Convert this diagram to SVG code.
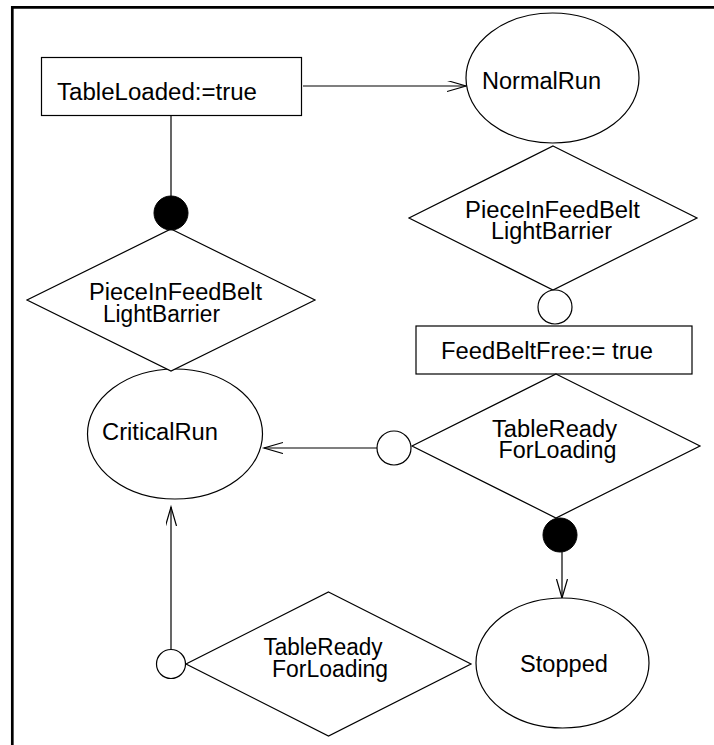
<svg xmlns="http://www.w3.org/2000/svg" width="714" height="745" viewBox="0 0 714 745">
  <style>
    .shape { fill: #fff; stroke: #000; stroke-width: 1.2; }
    .dot { fill: #000; stroke: #000; stroke-width: 1; }
    .ring { fill: #fff; stroke: #000; stroke-width: 1.2; }
    .edge { fill: none; stroke: #000; stroke-width: 1.2; }
    .frame { fill: none; stroke: #000; stroke-width: 2.7; }
    text { font-family: "Liberation Sans", Arial, Helvetica, sans-serif; font-size: 23px; fill: #000; }
  </style>
  <defs>
    <marker id="open-arrow" markerUnits="userSpaceOnUse" markerWidth="22" markerHeight="14" refX="19" refY="5.5" orient="auto">
      <path d="M0,0 L19,5.5 L0,11" fill="none" stroke="#000" stroke-width="1.2"/>
    </marker>
  </defs>

  <rect width="714" height="745" fill="#fff"/>

  <!-- page frame: top and left rules -->
  <g id="frame">
    <line class="frame" x1="11" y1="7.4" x2="714" y2="7.4"/>
    <line class="frame" x1="12.3" y1="6" x2="12.3" y2="745"/>
  </g>

  <!-- connectors -->
  <g id="connectors">
    <line class="edge" x1="303" y1="86" x2="466" y2="86" marker-end="url(#open-arrow)"/>
    <line class="edge" x1="171" y1="115.5" x2="171" y2="196"/>
    <line class="edge" x1="377" y1="448" x2="264" y2="448" marker-end="url(#open-arrow)"/>
    <line class="edge" x1="562" y1="552" x2="562" y2="598" marker-end="url(#open-arrow)"/>
    <line class="edge" x1="171" y1="649.5" x2="171" y2="507" marker-end="url(#open-arrow)"/>
  </g>

  <g id="table-loaded">
    <rect class="shape" x="41.5" y="57.5" width="260" height="58"/>
    <text x="57" y="100" textLength="200" lengthAdjust="spacingAndGlyphs">TableLoaded:=true</text>
  </g>

  <g id="normal-run">
    <ellipse class="shape" cx="552.5" cy="78" rx="86.5" ry="65"/>
    <text x="482" y="89" textLength="119" lengthAdjust="spacingAndGlyphs">NormalRun</text>
  </g>

  <g id="piece-sensor-normal">
    <polygon class="shape" points="553,146 697,218 553,290 409,218"/>
    <text x="465" y="217.5" textLength="175" lengthAdjust="spacingAndGlyphs">PieceInFeedBelt</text>
    <text x="491" y="239" textLength="121" lengthAdjust="spacingAndGlyphs">LightBarrier</text>
  </g>

  <g id="piece-sensor-normal-no">
    <circle class="ring" cx="555" cy="307" r="17"/>
  </g>

  <g id="feed-belt-free">
    <rect class="shape" x="416" y="326" width="276" height="48"/>
    <text x="441" y="359" textLength="212" lengthAdjust="spacingAndGlyphs">FeedBeltFree:= true</text>
  </g>

  <g id="table-ready-normal">
    <polygon class="shape" points="556,374 700,446 556,518 412,446"/>
    <text x="492" y="436.5" textLength="125" lengthAdjust="spacingAndGlyphs">TableReady</text>
    <text x="498.5" y="458" textLength="118" lengthAdjust="spacingAndGlyphs">ForLoading</text>
  </g>

  <g id="table-ready-normal-no">
    <circle class="ring" cx="394" cy="448" r="17"/>
  </g>

  <g id="table-ready-normal-yes">
    <circle class="dot" cx="560" cy="535" r="17"/>
  </g>

  <g id="stopped">
    <ellipse class="shape" cx="562.5" cy="663" rx="86.5" ry="65"/>
    <text x="520" y="672" textLength="88" lengthAdjust="spacingAndGlyphs">Stopped</text>
  </g>

  <g id="table-ready-stopped">
    <polygon class="shape" points="328.5,592 471,664 328.5,736 186,664"/>
    <text x="263.5" y="655" textLength="119" lengthAdjust="spacingAndGlyphs">TableReady</text>
    <text x="272" y="676.5" textLength="116" lengthAdjust="spacingAndGlyphs">ForLoading</text>
  </g>

  <g id="table-ready-stopped-no">
    <circle class="ring" cx="171" cy="664" r="14.5"/>
  </g>

  <g id="critical-run">
    <ellipse class="shape" cx="175" cy="434" rx="87.5" ry="65"/>
    <text x="102" y="440" textLength="116" lengthAdjust="spacingAndGlyphs">CriticalRun</text>
  </g>

  <g id="piece-sensor-critical">
    <polygon class="shape" points="171,229 315,300 171,371 27,300"/>
    <text x="89" y="300" textLength="173" lengthAdjust="spacingAndGlyphs">PieceInFeedBelt</text>
    <text x="103" y="321.5" textLength="117" lengthAdjust="spacingAndGlyphs">LightBarrier</text>
  </g>

  <g id="piece-sensor-critical-yes">
    <circle class="dot" cx="171" cy="213" r="17"/>
  </g>
</svg>
